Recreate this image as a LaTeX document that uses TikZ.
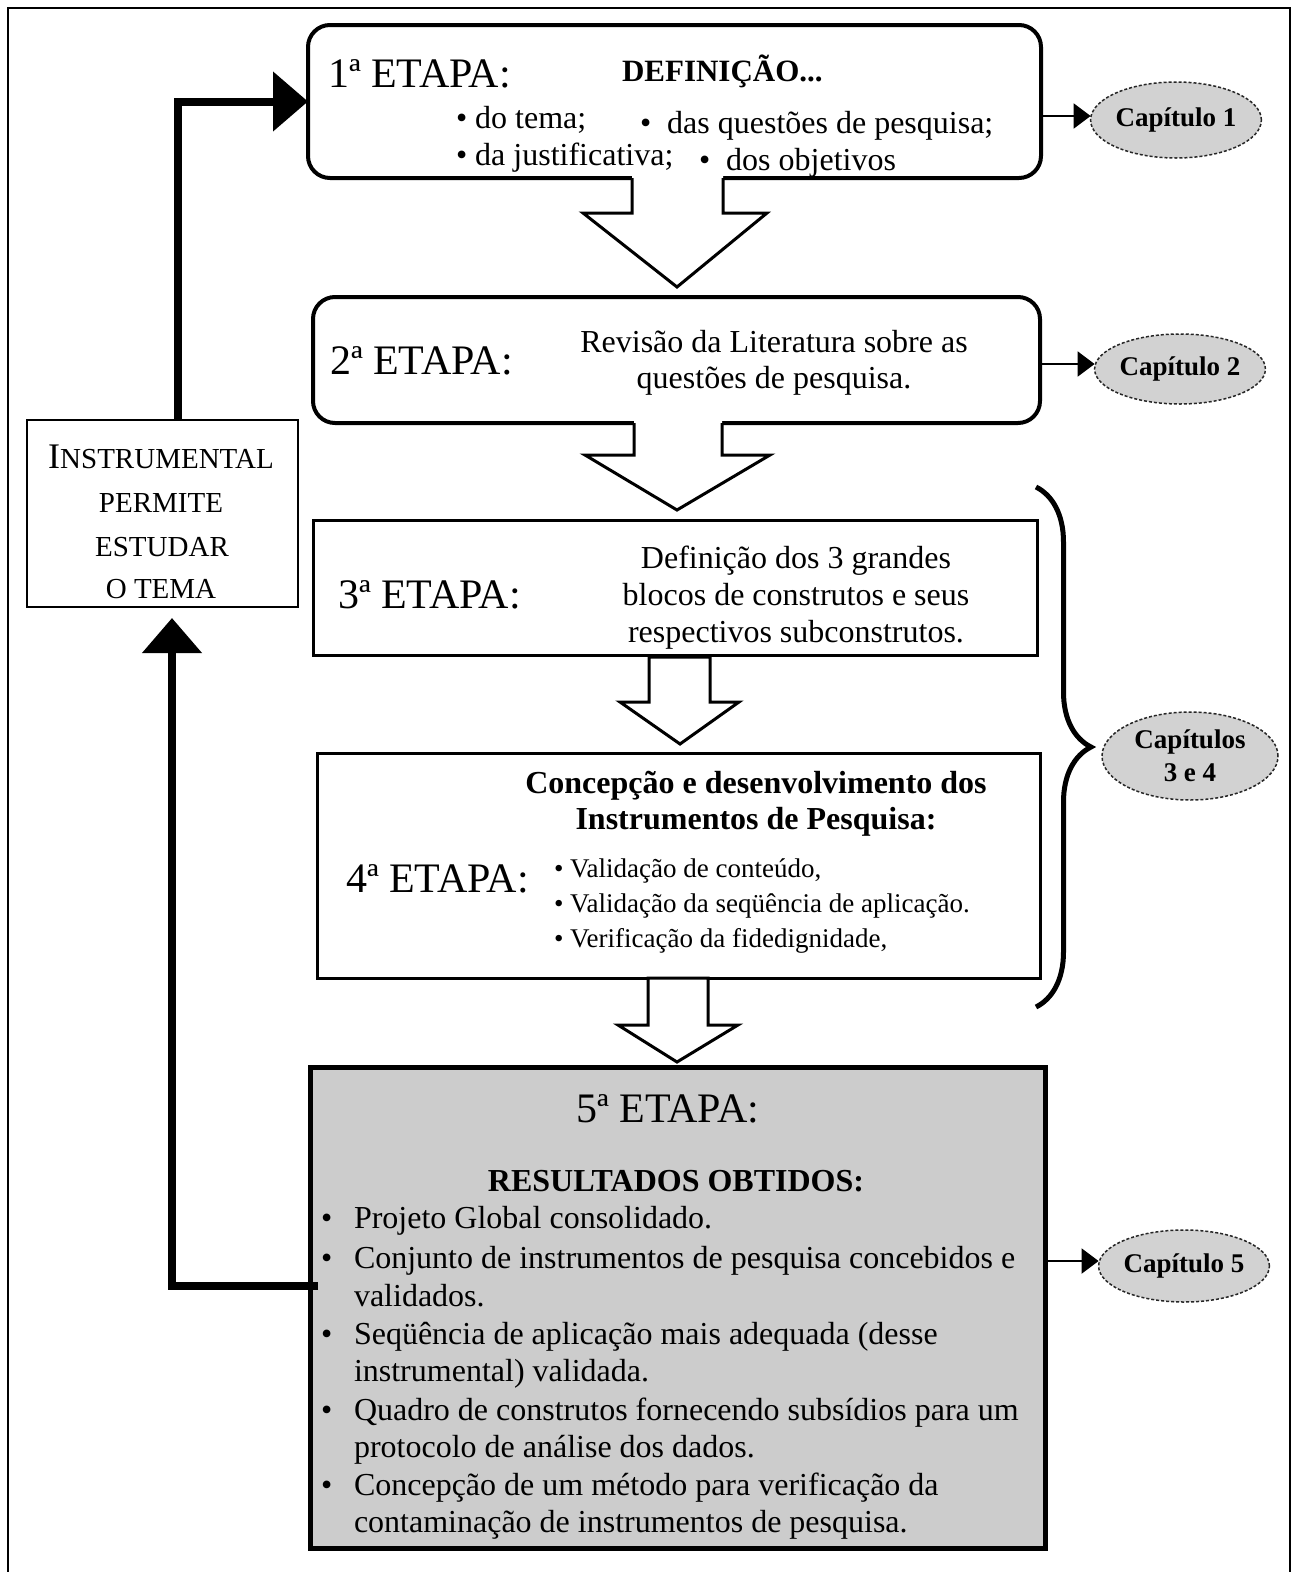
\documentclass[tikz,border=0pt]{standalone}
\usepackage{fontspec}
\setmainfont{Liberation Serif}
\usetikzlibrary{arrows.meta,decorations.pathreplacing,shapes.geometric}
\definecolor{boxgray}{HTML}{CCCCCC}
\definecolor{ellgray}{HTML}{D2D2D2}
\newcommand\fsz[1]{\fontsize{#1pt}{#1pt}\selectfont}
\begin{document}
\begin{tikzpicture}[x=1pt,y=-1pt,
  every node/.style={inner sep=0pt,outer sep=0pt},
  rbox/.style={draw,line width=4pt,rounded corners=22pt,fill=white},
  sbox/.style={draw,line width=3pt,fill=white},
  gbox/.style={draw,line width=5pt,fill=boxgray},
  ibox/.style={draw,line width=1.6pt,fill=white},
  chap/.style={ellipse,fill=ellgray,draw=black!85,line width=1.5pt,dash pattern=on 3pt off 2pt,font=\fsz{27}\bfseries,align=center},
  chaparr/.style={line width=2pt,-{Triangle[length=17pt,width=25pt]}},
  fb/.style={line width=8pt,line join=miter,-{Triangle[length=35pt,width=58pt]}},
  blk/.style={line width=3pt,line join=miter},
  etapa/.style={font=\fsz{42},anchor=base west},
  t32/.style={font=\fsz{32},anchor=base},
  t32w/.style={font=\fsz{32},anchor=base west},
  t27w/.style={font=\fsz{27},anchor=base west},
  ins/.style={font=\fsz{29},anchor=base}
]
\useasboundingbox (0,0) rectangle (1298,1572);
% outer frame
\draw[line width=2.5pt] (8,1590) -- (8,8) -- (1290,8) -- (1290,1590);

% boxes
\node[rbox,minimum width=733pt,minimum height=153pt] (b1) at (674.5,101.5) {};
\node[rbox,minimum width=727pt,minimum height=126pt] (b2) at (676.5,360) {};
\node[sbox,minimum width=724pt,minimum height=135pt] (b3) at (675,587.5) {};
\node[sbox,minimum width=723pt,minimum height=225pt] (b4) at (678.5,865.5) {};
\node[gbox,minimum width=735pt,minimum height=481pt] (b5) at (677.5,1307.5) {};
\node[ibox,minimum width=271pt,minimum height=187pt] (ins) at (162.5,513.5) {};

% block arrows
\fill[white] (632,174) -- (632,213) -- (583,213) -- (677,287) -- (767,213) -- (723,213) -- (723,174) -- cycle;
\draw[blk] (632,178) -- (632,213) -- (583,213) -- (677,287) -- (767,213) -- (723,213) -- (723,178);
\fill[white] (634,419) -- (634,455) -- (585,455) -- (677,510) -- (770,455) -- (722,455) -- (722,419) -- cycle;
\draw[blk] (634,423) -- (634,455) -- (585,455) -- (677,510) -- (770,455) -- (722,455) -- (722,423);
\draw[blk,fill=white] (649,657) -- (649,702) -- (620,702) -- (680,744) -- (739,702) -- (710,702) -- (710,657) -- cycle;
\draw[blk,fill=white] (648,978) -- (648,1025) -- (618,1025) -- (677,1062) -- (738,1025) -- (708,1025) -- (708,978) -- cycle;

% box 1 text
\node[etapa] (e1) at (328,87) {1ª ETAPA:};
\node[font=\fsz{31}\bfseries,anchor=base west] (d1) at (622,81) {DEFINIÇÃO...};
\node[t32w] (i11) at (456,128) {• do tema;};
\node[t32w] (i12) at (640,133) {•\hspace{16pt}das questões de pesquisa;};
\node[t32w] (i13) at (456,165) {• da justificativa;};
\node[t32w] (i14) at (699,170) {•\hspace{16pt}dos objetivos};

% box 2 text
\node[etapa] (e2) at (330,374) {2ª ETAPA:};
\node[t32] (r21) at (774,352) {Revisão da Literatura sobre as};
\node[t32] (r22) at (774,388) {questões de pesquisa.};

% box 3 text
\node[etapa] (e3) at (338,608) {3ª ETAPA:};
\node[t32] (r31) at (796,568) {Definição dos 3 grandes};
\node[t32] (r32) at (796,605) {blocos de construtos e seus};
\node[t32] (r33) at (796,642) {respectivos subconstrutos.};

% box 4 text
\node[font=\fsz{32}\bfseries,anchor=base] (r41) at (756,793) {Concepção e desenvolvimento dos};
\node[font=\fsz{32}\bfseries,anchor=base] (r42) at (756,829) {Instrumentos de Pesquisa:};
\node[etapa] (e4) at (346,892) {4ª ETAPA:};
\node[t27w] (i41) at (554,877) {• Validação de conteúdo,};
\node[t27w] (i42) at (554,912) {• Validação da seqüência de aplicação.};
\node[t27w] (i43) at (554,947) {• Verificação da fidedignidade,};

% box 5 text
\node[font=\fsz{42},anchor=base] (e5) at (668,1122) {5ª ETAPA:};
\node[font=\fsz{32}\bfseries,anchor=base] (r50) at (676,1191) {RESULTADOS OBTIDOS:};
\foreach \yy/\nm in {1228/a,1268/b,1344/c,1420/d,1495/e}{
  \node[t32w] (bul\nm) at (321,\yy) {•};
}
\node[t32w] (l1) at (354,1228) {Projeto Global consolidado.};
\node[t32w] (l2) at (354,1268) {Conjunto de instrumentos de pesquisa concebidos e};
\node[t32w] (l3) at (354,1306) {validados.};
\node[t32w] (l4) at (354,1344) {Seqüência de aplicação mais adequada (desse};
\node[t32w] (l5) at (354,1381) {instrumental) validada.};
\node[t32w] (l6) at (354,1420) {Quadro de construtos fornecendo subsídios para um};
\node[t32w] (l7) at (354,1457) {protocolo de análise dos dados.};
\node[t32w] (l8) at (354,1495) {Concepção de um método para verificação da};
\node[t32w] (l9) at (354,1532) {contaminação de instrumentos de pesquisa.};

% instrumental box text
\node[ins] (n1) at (161,468) {{\fsz{36}I}NSTRUMENTAL};
\node[ins] (n2) at (161,512) {PERMITE};
\node[ins] (n3) at (162,556) {ESTUDAR};
\node[ins] (n4) at (161,598) {O TEMA};

% chapter ellipses
\node[chap,minimum width=166pt,minimum height=76pt] (c1) at (1176,120) {Capítulo 1};
\node[chap,minimum width=166pt,minimum height=70pt] (c2) at (1180,369) {Capítulo 2};
\node[chap,minimum width=176pt,minimum height=88pt] (c34) at (1190,756) {Capítulos\\[6pt]3 e 4};
\node[chap,minimum width=168pt,minimum height=72pt] (c5) at (1184,1266) {Capítulo 5};

\draw[chaparr] ([yshift=4pt]c1.west -| b1.east) -- ([yshift=4pt]c1.west);
\draw[chaparr] ([yshift=5pt]c2.west -| b2.east) -- ([yshift=5pt]c2.west);
\draw[chaparr] ([yshift=5pt]c5.west -| b5.east) -- ([yshift=5pt]c5.west);

% brace
\draw[line width=5pt,decorate,decoration={brace,amplitude=55pt}] (1036,487) -- (1036,1007);

% feedback arrows
\coordinate (fbx) at (178,0);
\coordinate (fbx2) at (172,0);
\coordinate (fby) at (0,1286);
\draw[fb] (ins.north -| fbx) |- (b1.west);
\draw[fb,shorten <=-8pt] (b5.west |- fby) -| ([yshift=-11pt]ins.south -| fbx2);
\end{tikzpicture}
\end{document}
